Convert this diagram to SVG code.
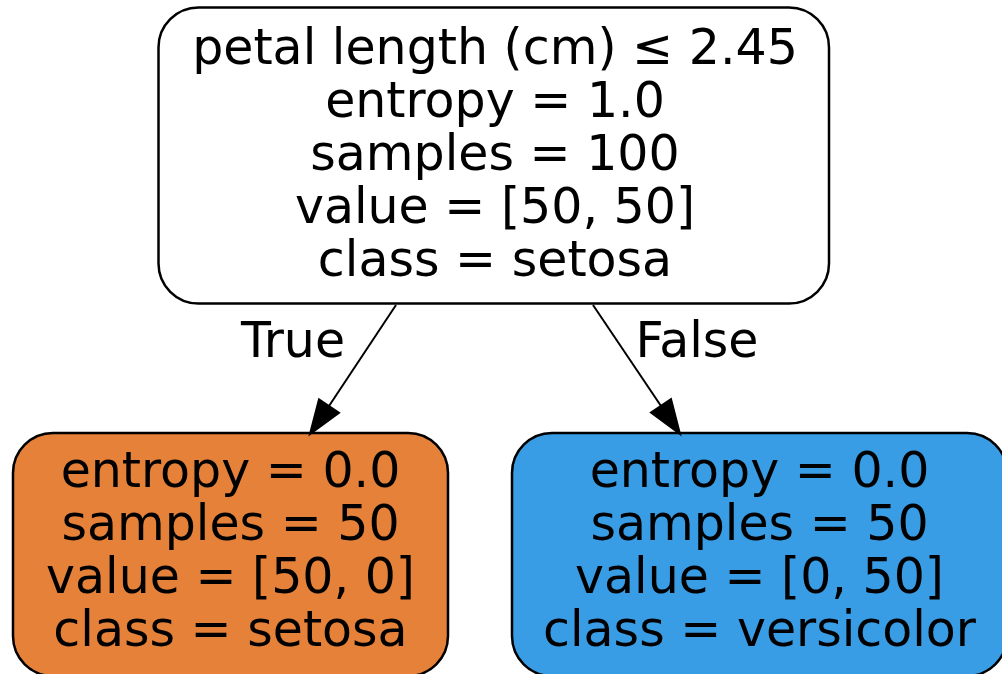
<svg xmlns="http://www.w3.org/2000/svg" width="1002" height="674" viewBox="0 0 1002 674">
<style>
.box{stroke:#000;stroke-width:2.5}
.t{font-family:"DejaVu Sans",sans-serif;font-size:49px;fill:#000;text-anchor:middle}
.edge{stroke:#000;stroke-width:2;fill:none}
.head{fill:#000;stroke:#000;stroke-width:2}
</style>
<rect width="1002" height="674" fill="#fff"/>
<g id="node0">
<rect class="box" x="158.5" y="7.5" width="670.5" height="296" rx="40" ry="40" fill="#ffffff"/>
<text class="t" x="495" y="64">petal length (cm) ≤ 2.45</text>
<text class="t" x="495" y="117">entropy = 1.0</text>
<text class="t" x="495" y="170">samples = 100</text>
<text class="t" x="495" y="223">value = [50, 50]</text>
<text class="t" x="495" y="276">class = setosa</text>
</g>
<g id="node1">
<rect class="box" x="13" y="433" width="435" height="243" rx="40" ry="40" fill="#e58139"/>
<text class="t" x="230.5" y="487">entropy = 0.0</text>
<text class="t" x="230.5" y="540">samples = 50</text>
<text class="t" x="230.5" y="593">value = [50, 0]</text>
<text class="t" x="230.5" y="646">class = setosa</text>
</g>
<g id="node2">
<rect class="box" x="512" y="433" width="495" height="243" rx="40" ry="40" fill="#399de5"/>
<text class="t" x="759.5" y="487">entropy = 0.0</text>
<text class="t" x="759.5" y="540">samples = 50</text>
<text class="t" x="759.5" y="593">value = [0, 50]</text>
<text class="t" x="759.5" y="646">class = versicolor</text>
</g>
<g id="edges">
<line class="edge" x1="396" y1="305" x2="329" y2="406"/>
<polygon class="head" points="310,434 319,399.3 339,412.7"/>
<text class="t" x="293" y="357">True</text>
<line class="edge" x1="593" y1="305" x2="661" y2="406"/>
<polygon class="head" points="680,434 651,412.5 671,399"/>
<text class="t" x="697" y="357">False</text>
</g>
</svg>
